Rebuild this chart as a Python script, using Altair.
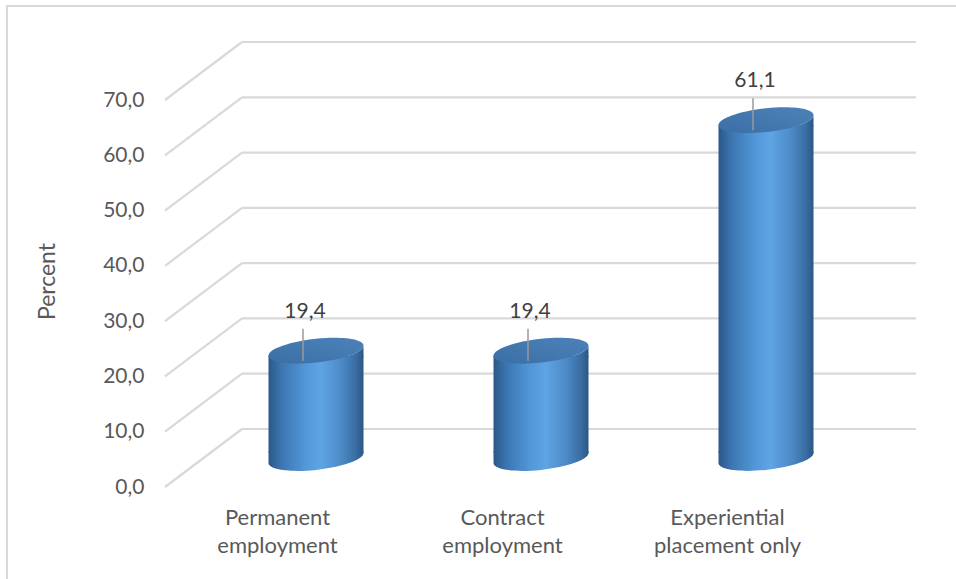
import altair as alt
import pandas as pd

# ---- data ----
categories = ["Permanent\nemployment", "Contract\nemployment", "Experiential\nplacement only"]
values = [19.4, 19.4, 61.1]
y_ticks = [0, 10, 20, 30, 40, 50, 60, 70]
y_title = "Percent"

# ---- layout / style constants ----
W, H = 675, 387
DX, DY = 77, -58            # depth of the 3D box (px)
HDX, HDY = DX / 2, DY / 2   # cylinders sit mid-depth
R = 47.5                    # cylinder radius (px)
K = 0.105                   # ellipse shear
B = 0.25                    # ellipse vertical radius (unit)
KA = 0.5523
E = 0.03
GRID = "#d9d9d9"
TXT = "#595959"
FONT = "Lato"
FS = 21


def f(v):
    return f"{v:.4f}"


seg1 = (f"C 1 {f(KA*B-K)} {f(KA)} {f(B-K*KA)} 0 {f(B)} ")
seg2 = (f"C {f(-KA)} {f(B+K*KA)} -1 {f(KA*B+K)} -1 {f(K)} ")
seg3 = (f"C -1 {f(-KA*B+K)} {f(-KA)} {f(-B+K*KA)} 0 {f(-B)} ")
seg4 = (f"C {f(KA)} {f(-B-K*KA)} 1 {f(-KA*B-K)} 1 {f(-K)} ")
top_path = f"M 1 {f(-K)} " + seg1 + seg2 + seg3 + seg4 + "Z"
top_cap_path = f"M 1 {f(-K)} " + seg1 + seg2 + f"L -1 {f(K+E)} L 1 {f(K+E)} Z"
bot_cap_path = f"M 1 {f(-K-E)} L 1 {f(-K)} " + seg1 + seg2 + f"L -1 {f(-K-E)} Z"
SIZE = (2 * R) ** 2

body_grad = alt.LinearGradient(
    gradient="linear", x1=0, x2=1, y1=0, y2=0,
    stops=[
        alt.GradientStop(color="#2a5888", offset=0),
        alt.GradientStop(color="#3c76b2", offset=0.14),
        alt.GradientStop(color="#5196d6", offset=0.38),
        alt.GradientStop(color="#5fa4e4", offset=0.55),
        alt.GradientStop(color="#4d8bc8", offset=0.76),
        alt.GradientStop(color="#3a6da2", offset=0.92),
        alt.GradientStop(color="#2b5884", offset=1),
    ],
)
top_grad = alt.LinearGradient(
    gradient="linear", x1=0, x2=1, y1=1, y2=0,
    stops=[
        alt.GradientStop(color="#3a6ea4", offset=0),
        alt.GradientStop(color="#4479b0", offset=0.5),
        alt.GradientStop(color="#4b81b9", offset=1),
    ],
)

bars = pd.DataFrame({"cat": categories, "value": values})
bars["zero"] = 0
ticks = pd.DataFrame({"v": y_ticks})

x_enc = alt.X("cat:N", scale=alt.Scale(domain=categories, paddingInner=0, paddingOuter=0),
              sort=categories, axis=None)
y_scale = alt.Scale(domain=[0, 70], nice=False, zero=True)
y_axis = alt.Axis(
    values=y_ticks, format=".1f", labelExpr="replace(datum.label, '.', ',')",
    domain=False, ticks=False, grid=False, labelPadding=21,
    labelFont=FONT, labelFontSize=FS, labelColor=TXT,
    title=y_title, titleFont=FONT, titleFontSize=23, titleColor=TXT,
    titleFontWeight="normal", titleX=-118, titleY=181, titleAngle=270,
    titleAlign="center", titleBaseline="middle",
)


def yq(field):
    return alt.Y(f"{field}:Q", scale=y_scale, axis=y_axis)


back_grid = alt.Chart(ticks).mark_rule(color=GRID, strokeWidth=2.2, yOffset=DY).encode(
    x=alt.value(DX), x2=alt.value(W + DX - 1), y=yq("v"))

diag = alt.Chart(ticks).mark_rule(color=GRID, strokeWidth=2.2, y2Offset=DY).encode(
    x=alt.value(0), x2=alt.value(DX), y=yq("v"), y2=alt.Y2("v"))

bottom_cap = alt.Chart(bars).mark_point(
    shape=bot_cap_path, size=SIZE, filled=True, fill=body_grad, opacity=1,
    strokeWidth=0, xOffset=HDX, yOffset=HDY).encode(x=x_enc, y=yq("zero"))

body = alt.Chart(bars).mark_bar(
    width=2 * R, fill=body_grad, xOffset=HDX,
    yOffset=HDY + K * R, y2Offset=HDY - K * R).encode(
    x=x_enc, y=yq("value"), y2=alt.Y2("zero"))

top_cap = alt.Chart(bars).mark_point(
    shape=top_cap_path, size=SIZE, filled=True, fill=body_grad, opacity=1,
    strokeWidth=0, xOffset=HDX, yOffset=HDY).encode(x=x_enc, y=yq("value"))

top = alt.Chart(bars).mark_point(
    shape=top_path, size=SIZE, filled=True, fill=top_grad, opacity=1,
    strokeWidth=0, xOffset=HDX, yOffset=HDY).encode(x=x_enc, y=yq("value"))

leader = alt.Chart(bars).mark_rule(
    color="#9a9a9a", strokeWidth=1.5, xOffset=HDX - 13,
    yOffset=HDY - 22, y2Offset=HDY + 10).encode(
    x=x_enc, y=yq("value"), y2=alt.Y2("value"))

labels = alt.Chart(bars).transform_calculate(
    label="replace(format(datum.value, '.1f'), '.', ',')"
).mark_text(font=FONT, fontSize=FS, color="#404040", baseline="middle",
            xOffset=HDX - 11, yOffset=HDY - 39).encode(
    x=x_enc, y=yq("value"), text="label:N")

cat_text = alt.Chart(bars).mark_text(
    font=FONT, fontSize=22, color=TXT, lineBreak="\n", lineHeight=28,
    baseline="alphabetic", align="center").encode(
    x=x_enc, y=alt.value(425), text="cat:N")

border = alt.Chart(pd.DataFrame({"a": [0]})).mark_rect(
    filled=False, stroke=GRID, strokeWidth=2).encode(
    x=alt.value(-158), x2=alt.value(1000), y=alt.value(-94), y2=alt.value(700))

chart = alt.layer(
    back_grid, diag, bottom_cap, body, top_cap, top, leader, labels, cat_text, border
).properties(
    width=W, height=H,
    padding={"left": 165, "top": 100, "right": 116, "bottom": 92},
    autosize=alt.AutoSizeParams(type="none"),
    background="white",
).configure(font=FONT).configure_view(stroke="transparent", strokeWidth=0)

chart.save("out.html", embed_options={"renderer": "svg", "actions": False})
